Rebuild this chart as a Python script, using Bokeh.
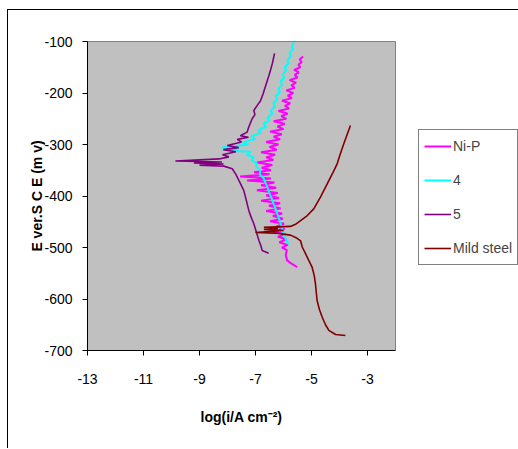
from bokeh.plotting import figure
from bokeh.models import Range1d, Legend, LegendItem, FixedTicker, CustomJSTickFormatter
from bokeh.embed import file_html
from bokeh.resources import INLINE

# ---- data (log i, E mV) ----
nip_x = [-5.51, -5.70, -5.87, -5.92, -5.88, -6.05, -5.85, -6.15, -5.90, -6.20, -5.92, -6.40, -5.96,
         -6.25, -5.98, -6.48, -6.02, -6.38, -6.05, -6.62, -6.10, -6.52, -6.12, -6.80, -6.16, -6.62,
         -6.20, -6.95, -6.26, -6.80, -6.32, -7.30, -6.45, -7.55, -6.50, -7.05, -6.45, -6.78, -6.40,
         -6.95, -6.36, -6.62, -6.30, -6.80, -6.24, -6.50, -6.18, -6.62, -6.12, -6.35, -6.06, -6.48,
         -6.00, -6.22, -5.95, -6.35, -5.90, -6.08, -5.85, -6.18, -5.80, -5.95, -5.76, -6.05, -5.70,
         -5.85, -5.65, -5.90, -5.60, -5.72, -5.55, -5.78, -5.50, -5.60, -5.45, -5.62, -5.40, -5.47,
         -5.35, -5.42, -5.30]
nip_y = [-538, -532, -525, -515, -505, -500, -495, -490, -484, -479, -474, -469, -464,
         -459, -454, -449, -444, -439, -434, -429, -424, -419, -414, -409, -404, -399,
         -394, -389, -384, -379, -374, -370, -366, -362, -358, -354, -350, -345, -340,
         -335, -330, -325, -320, -315, -310, -305, -300, -295, -290, -285, -280, -275,
         -270, -265, -260, -255, -250, -245, -240, -235, -230, -225, -220, -215, -210,
         -205, -200, -195, -190, -185, -180, -175, -170, -165, -160, -155, -150, -145,
         -140, -135, -129]

s4_x = [-5.63, -5.70, -5.66, -5.78, -5.74, -5.86, -5.82, -5.95, -5.90, -6.03, -5.98, -6.10, -6.05,
        -6.18, -6.13, -6.27, -6.22, -6.36, -6.30, -6.46, -6.40, -6.58, -6.50, -6.72, -6.62, -6.90,
        -6.80, -7.15, -7.00, -7.45, -7.25, -8.19, -7.60, -7.90, -7.18, -7.30, -7.06, -7.15, -6.94,
        -6.98, -6.82, -6.85, -6.70, -6.64, -6.56, -6.50, -6.42, -6.36, -6.28, -6.22, -6.14, -6.08,
        -6.01, -5.94, -5.86, -5.81]
s4_y = [-101, -110, -115, -122, -128, -136, -142, -150, -156, -164, -170, -178, -184,
        -192, -198, -206, -212, -220, -226, -234, -240, -248, -253, -260, -265, -272,
        -277, -284, -289, -296, -300, -306, -309, -312, -314, -320, -325, -330, -337,
        -343, -350, -358, -366, -375, -385, -395, -405, -415, -425, -435, -447, -458,
        -470, -481, -490, -494]

s5_x = [-6.32, -6.36, -6.40, -6.46, -6.52, -6.58, -6.66, -6.73, -6.82, -6.95, -7.06, -7.02, -7.12,
        -7.24, -7.30, -7.54, -7.25, -7.65, -7.50, -8.01, -7.60, -8.15, -7.70, -8.18, -7.95, -8.30,
        -9.86, -8.20, -9.20, -8.14, -9.00, -8.13, -7.83, -7.70, -7.59, -7.42, -7.33, -7.24, -7.15,
        -7.06, -6.97, -6.88, -6.80, -6.76, -6.53]
s5_y = [-123, -133, -143, -155, -166, -176, -190, -202, -215, -225, -234, -242, -250,
        -266, -276, -283, -286, -290, -295, -302, -306, -310, -314, -320, -324, -328,
        -332, -334, -336, -338, -340, -342, -347, -358, -370, -389, -408, -428, -442,
        -454, -470, -486, -498, -506, -511]

ms_x = [-3.61, -3.73, -3.85, -3.97, -4.08, -4.23, -4.38, -4.53, -4.68, -4.92, -5.15, -5.39, -5.57,
        -5.75, -6.70, -6.20, -6.70, -6.00, -7.00, -6.30, -5.75, -5.55, -5.39, -5.33, -5.15, -4.98,
        -4.90, -4.86, -4.80, -4.72, -4.62, -4.50, -4.38, -4.14, -3.79]
ms_y = [-263, -281, -299, -318, -337, -354, -370, -386, -402, -425, -438, -448, -455,
        -459, -461, -463, -465, -467, -471, -472, -476, -481, -487, -499, -519, -538,
        -555, -570, -603, -620, -635, -650, -661, -669, -671]

series_names = ["Ni-P", "4", "5", "Mild steel"]
series_colors = ["#FF00FF", "#00FFFF", "#800080", "#800000"]
x_ticks = [-13, -11, -9, -7, -5, -3]
y_ticks = [-700, -600, -500, -400, -300, -200, -100]

FONT = "Liberation Sans"

p = figure(frame_width=308, frame_height=309,
           min_border_left=79, min_border_right=123, min_border_top=31, min_border_bottom=98,
           output_backend="svg", toolbar_location=None,
           x_range=Range1d(-13, -2), y_range=Range1d(-700, -100),
           background_fill_color="#C0C0C0", border_fill_color="white",
           styles={"margin-left": "7px", "margin-top": "9px",
                   "border-left": "1px solid black", "border-top": "1px solid black"})
p.outline_line_color = "#808080"
p.outline_line_width = 1
p.grid.visible = False

fmt = CustomJSTickFormatter(code="return tick.toString();")
for ax in (p.xaxis[0], p.yaxis[0]):
    ax.major_tick_in = 0
    ax.major_tick_out = 5
    ax.minor_tick_line_color = None
    ax.axis_line_color = "black"
    ax.major_tick_line_color = "black"
    ax.major_label_text_font = FONT
    ax.major_label_text_font_size = "14px"
    ax.major_label_text_color = "black"
    ax.axis_label_text_font = FONT
    ax.axis_label_text_font_size = "14px"
    ax.axis_label_text_font_style = "bold"
    ax.axis_label_text_color = "black"
    ax.formatter = fmt

p.xaxis.ticker = FixedTicker(ticks=x_ticks)
p.yaxis.ticker = FixedTicker(ticks=y_ticks)
p.xaxis.axis_label = "log(i/A cm\u207B\u00B2)"
p.yaxis.axis_label = "E ver.S C E (m v)"
p.xaxis.major_label_standoff = 18
p.xaxis.axis_label_standoff = 22
p.yaxis.major_label_standoff = 10
p.yaxis.axis_label_standoff = -4

datasets = [(nip_x, nip_y), (s4_x, s4_y), (s5_x, s5_y), (ms_x, ms_y)]
widths = [2, 2, 1.6, 1.6]
items = []
for (xs, ys), name, col, w in zip(datasets, series_names, series_colors, widths):
    r = p.line(xs, ys, line_color=col, line_width=w)
    items.append(LegendItem(label=name, renderers=[r]))

legend = Legend(items=items, location=(23, 85),
                label_text_font=FONT, label_text_font_size="14px",
                glyph_width=27, glyph_height=22, label_height=22, spacing=12,
                padding=5, margin=0, label_standoff=2,
                border_line_color="black", border_line_width=1,
                background_fill_color="white", background_fill_alpha=1)
p.add_layout(legend, "right")

open("out.html", "w").write(file_html(p, INLINE))
